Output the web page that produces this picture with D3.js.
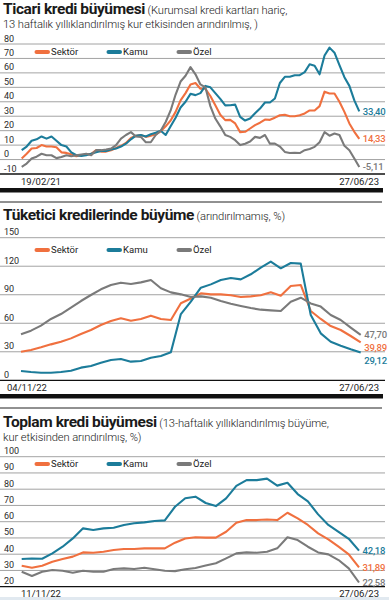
<!DOCTYPE html>
<html>
<head>
<meta charset="utf-8">
<script src="https://cdn.jsdelivr.net/npm/d3@7"></script>
<style>
  html, body { margin: 0; padding: 0; background: #fff; }
  svg { display: block; font-family: Roboto, 'Open Sans', sans-serif; }
</style>
</head>
<body>
<svg id="chart" width="389" height="600"></svg>
<script>
// ---------------------------------------------------------------------------
// Data
// ---------------------------------------------------------------------------
const seriesNames = ['Sektör', 'Kamu', 'Özel'];
const seriesColors = ['#f0703f', '#1c7c9a', '#7a7a7a'];

// Ticari kredi büyümesi (19/02/21 - 27/06/23)
const ticariSektor = [0.7, 4, 7.6, 8, 10, 9, 9, 8.5, 5, 4.6, 3.7, 2.3, 3, 3.5, 4, 6.5, 5.5, 5.5, 6.5, 8,
  9.5, 11.5, 15, 16.5, 17, 15.7, 16.5, 17.5, 19.5, 23, 27, 33, 41, 46, 52, 53, 49, 49, 44, 37.6,
  31, 27.3, 27.5, 25, 19, 19.2, 21.5, 23.8, 25.5, 27.7, 27.5, 29, 30.7, 31, 30, 30, 30.7, 31.9, 34, 34,
  37, 47, 45.7, 45.7, 40, 33, 25, 19.2, 14.33];
const ticariKamu = [6.5, 9, 13, 14, 16, 14.5, 16, 13, 10, 9, 5, 3, 2.5, 3, 4, 5, 6, 6, 7, 7.6,
  9, 11, 14, 16.5, 17, 16, 17.5, 18.5, 20, 17, 23, 29, 36, 40, 45.5, 44.6, 46, 51, 50, 46,
  42, 37.5, 37.6, 38, 29.6, 27, 28.4, 32, 35.3, 39.5, 39.5, 42.3, 53, 57.3, 57.3, 58.4, 58.4, 60.5, 66, 65,
  59, 72, 77.5, 74, 65.4, 57, 51, 41, 33.40];
const ticariOzel = [-5, -2.8, 0.7, 2, 4, 3, 3, 1, 1.8, 3, 2.3, 3, 3.5, 4, 3, 6.5, 6.5, 7, 7.6, 10,
  14.5, 17, 19, 16, 15.7, 12, 12, 17, 20, 26, 34, 45, 54, 58, 64, 59, 52, 50, 37, 28.4,
  23, 17, 15.7, 13.4, 10, 11, 12.5, 15.7, 15, 17, 11, 11, 9, 5.3, 4.5, 4.6, 4.5, 6.5, 7.3, 8.8,
  12, 19, 16.5, 18, 17, 9.5, 6.5, 0.7, -5.11];
const ticariTicks = [-10, 0, 10, 20, 30, 40, 50, 60, 70, 80];
const ticariDates = ['19/02/21', '27/06/23'];

// Tüketici kredilerinde büyüme (04/11/22 - 27/06/23)
const tuketiciSektor = [30.1, 31.9, 34.7, 37.8, 40.6, 44.1, 48.7, 52.9, 58.2, 62.4, 65.2, 62.7, 64.5, 68, 64.5, 63.4, 81, 86,
  91.5, 90.4, 90.4, 89.4, 87.6, 88.3, 89.4, 92.5, 89, 99.2, 100.3, 72.9, 64.5, 57.1, 52.9, 46.6, 39.89];
const tuketiciKamu = [9.8, 8.7, 8, 8, 8.7, 10.1, 13.3, 15, 18.5, 21.4, 22.4, 19.6, 20.3, 23.8, 25.6, 29.4, 69.7, 82.7,
  97.4, 100.9, 105.5, 107.6, 106.2, 111.5, 118.5, 124.8, 117.8, 123.4, 122.7, 68.7, 49.4, 40.6, 36.4, 32.6, 29.12];
const tuketiciOzel = [48.4, 52.2, 57.5, 64.5, 69.7, 76.4, 83.4, 89.7, 95.7, 100.3, 102.7, 101.3, 103, 105.5, 96.8, 92.5, 90.4, 87.6,
  88.3, 86.9, 83.4, 80.6, 78.2, 76, 74.3, 73.6, 72.9, 82.7, 86.9, 80.9, 77.5, 68.7, 63.4, 55.4, 47.70];
const tuketiciTicks = [0, 30, 60, 90, 120, 150];
const tuketiciDates = ['04/11/22', '27/06/23'];

// Toplam kredi büyümesi (11/11/22 - 27/06/23)
const toplamSektor = [32.9, 31.7, 32.9, 35.4, 37, 38.5, 41.1, 40.9, 41.5, 42.6, 43.2, 43.2, 43.6, 43.6, 43.6, 47.1, 49.7,
  50.4, 50.2, 50.2, 53.8, 59.4, 61, 61, 61.4, 61, 65.5, 62, 58, 52.8, 49.1, 44.6, 39.9, 31.89];
const toplamKamu = [37, 37.4, 37.2, 40.5, 44.6, 49.7, 55.9, 54.9, 55.9, 56.3, 58, 59, 59.6, 60.4, 60.8, 69.2, 74.4,
  75.4, 71.5, 69.6, 74.4, 82, 85.6, 85.6, 86.5, 82.2, 84, 77, 72.5, 64.5, 58, 53.8, 49.5, 42.18];
const toplamOzel = [29.2, 26.6, 29.2, 30.3, 29.8, 28.6, 29.8, 29.2, 29.2, 30.9, 31.3, 30.9, 31.7, 30.7, 29.8, 29.6, 30.7,
  31.5, 33, 34.4, 37.4, 40.5, 41.1, 40.9, 41.5, 43.6, 50.4, 48.7, 44.6, 41.1, 39.9, 36.4, 31.3, 22.58];
const toplamTicks = [20, 30, 40, 50, 60, 70, 80, 90, 100];
const toplamDates = ['11/11/22', '27/06/23'];

// ---------------------------------------------------------------------------
// Layout
// ---------------------------------------------------------------------------
const svg = d3.select('#chart');
const fmt = (v) => v.toFixed(2).replace('.', ',');

const panels = [
  {
    title: 'Ticari kredi büyümesi',
    sub: ' (Kurumsal kredi kartları hariç,',
    sub2: '13 haftalık yıllıklandırılmış kur etkisinden arındırılmış, )',
    titleY: 14, sub2Y: 28, topRule: null,
    series: [ticariSektor, ticariKamu, ticariOzel],
    ticks: ticariTicks, dates: ticariDates,
    domain: [-10, 80], yRange: [174, 44], xRange: [21.7, 359.3],
    legendY: 52, dateY: 185, dateX0: 21, bar: 188
  },
  {
    title: 'Tüketici kredilerinde büyüme',
    sub: ' (arındırılmamış, %)',
    sub2: null,
    titleY: 220, topRule: 202,
    series: [tuketiciSektor, tuketiciKamu, tuketiciOzel],
    ticks: tuketiciTicks, dates: tuketiciDates,
    domain: [0, 150], yRange: [380.3, 237.7], xRange: [21, 360.7],
    legendY: 250, dateY: 391, dateX0: 7, bar: 394
  },
  {
    title: 'Toplam kredi büyümesi',
    sub: ' (13-haftalık yıllıklandırılmış büyüme,',
    sub2: 'kur etkisinden arındırılmış, %)',
    titleY: 427, sub2Y: 441, topRule: 408,
    series: [toplamSektor, toplamKamu, toplamOzel],
    ticks: toplamTicks, dates: toplamDates,
    domain: [20, 100], yRange: [586.7, 456.7], xRange: [21.7, 359],
    legendY: 464, dateY: 597, dateX0: 21, bar: null
  }
];

const legendX = [35, 107, 177];

const drawPanel = (p) => {
  const g = svg.append('g');
  const n = p.series[0].length;
  const x = d3.scaleLinear().domain([0, n - 1]).range(p.xRange);
  const y = d3.scaleLinear().domain(p.domain).range(p.yRange);

  if (p.topRule !== null) {
    g.append('line')
      .attr('x1', 0).attr('x2', 382)
      .attr('y1', p.topRule).attr('y2', p.topRule)
      .attr('stroke', '#222').attr('stroke-width', 1);
  }

  // title
  const t = g.append('text')
    .attr('x', 3).attr('y', p.titleY)
    .attr('fill', '#1a1a1a');
  t.append('tspan')
    .attr('font-size', 15.5).attr('font-weight', 700)
    .attr('letter-spacing', -0.4)
    .text(p.title);
  t.append('tspan')
    .attr('font-size', 11.2).attr('font-weight', 300)
    .attr('letter-spacing', -0.1)
    .text(p.sub);
  if (p.sub2) {
    g.append('text')
      .attr('x', 3).attr('y', p.sub2Y)
      .attr('font-size', 11.2).attr('font-weight', 300)
      .attr('letter-spacing', -0.1)
      .attr('fill', '#1a1a1a')
      .text(p.sub2);
  }

  // grid + tick labels
  p.ticks.forEach((tv, i) => {
    const isBase = i === 0;
    g.append('line')
      .attr('x1', 0).attr('x2', 385)
      .attr('y1', y(tv)).attr('y2', y(tv))
      .attr('stroke', isBase ? '#111' : '#8c8c8c')
      .attr('stroke-width', isBase ? 1.3 : 0.8);
    g.append('text')
      .attr('x', 4).attr('y', y(tv) - 2.5)
      .attr('font-size', 9)
      .attr('fill', '#2a2a2a')
      .text(tv);
  });

  // legend
  seriesNames.forEach((name, i) => {
    g.append('line')
      .attr('x1', legendX[i] + 1.5).attr('x2', legendX[i] + 13)
      .attr('y1', p.legendY).attr('y2', p.legendY)
      .attr('stroke', seriesColors[i])
      .attr('stroke-width', 4)
      .attr('stroke-linecap', 'round');
    g.append('text')
      .attr('x', legendX[i] + 16).attr('y', p.legendY)
      .attr('dy', '0.35em')
      .attr('font-size', 9.5)
      .attr('fill', '#222')
      .text(name);
  });

  // lines
  const line = d3.line()
    .x((d, i) => x(i))
    .y((d) => y(d));

  p.series.forEach((s, i) => {
    g.append('path')
      .datum(s)
      .attr('fill', 'none')
      .attr('stroke', seriesColors[i])
      .attr('stroke-width', 2.1)
      .attr('stroke-linejoin', 'round')
      .attr('d', line);
  });

  // end labels, pushed apart so they do not overlap
  const ends = p.series
    .map((s, i) => ({ v: s[s.length - 1], c: seriesColors[i], ly: y(s[s.length - 1]) }))
    .sort((a, b) => a.ly - b.ly);
  for (let i = 1; i < ends.length; i++) {
    if (ends[i].ly - ends[i - 1].ly < 13) ends[i].ly = ends[i - 1].ly + 13;
  }
  ends.forEach((e) => {
    g.append('text')
      .attr('x', x(n - 1) + 3.5).attr('y', e.ly)
      .attr('dy', '0.35em')
      .attr('font-size', 9.5)
      .attr('font-weight', 500)
      .attr('letter-spacing', -0.2)
      .attr('fill', e.c)
      .text(fmt(e.v));
  });

  // dates
  g.append('text')
    .attr('x', p.dateX0).attr('y', p.dateY)
    .attr('font-size', 9.5).attr('fill', '#222')
    .text(p.dates[0]);
  g.append('text')
    .attr('x', 379).attr('y', p.dateY)
    .attr('text-anchor', 'end')
    .attr('font-size', 9.5).attr('fill', '#222')
    .text(p.dates[1]);

  if (p.bar !== null) {
    g.append('rect')
      .attr('x', 0).attr('y', p.bar)
      .attr('width', 383).attr('height', 4.5)
      .attr('fill', '#111');
  }
};

panels.forEach(drawPanel);

// light strip at the very bottom of the page
svg.append('rect')
  .attr('x', 0).attr('y', 597)
  .attr('width', 389).attr('height', 3)
  .attr('fill', '#e1e9f0');
</script>
</body>
</html>
